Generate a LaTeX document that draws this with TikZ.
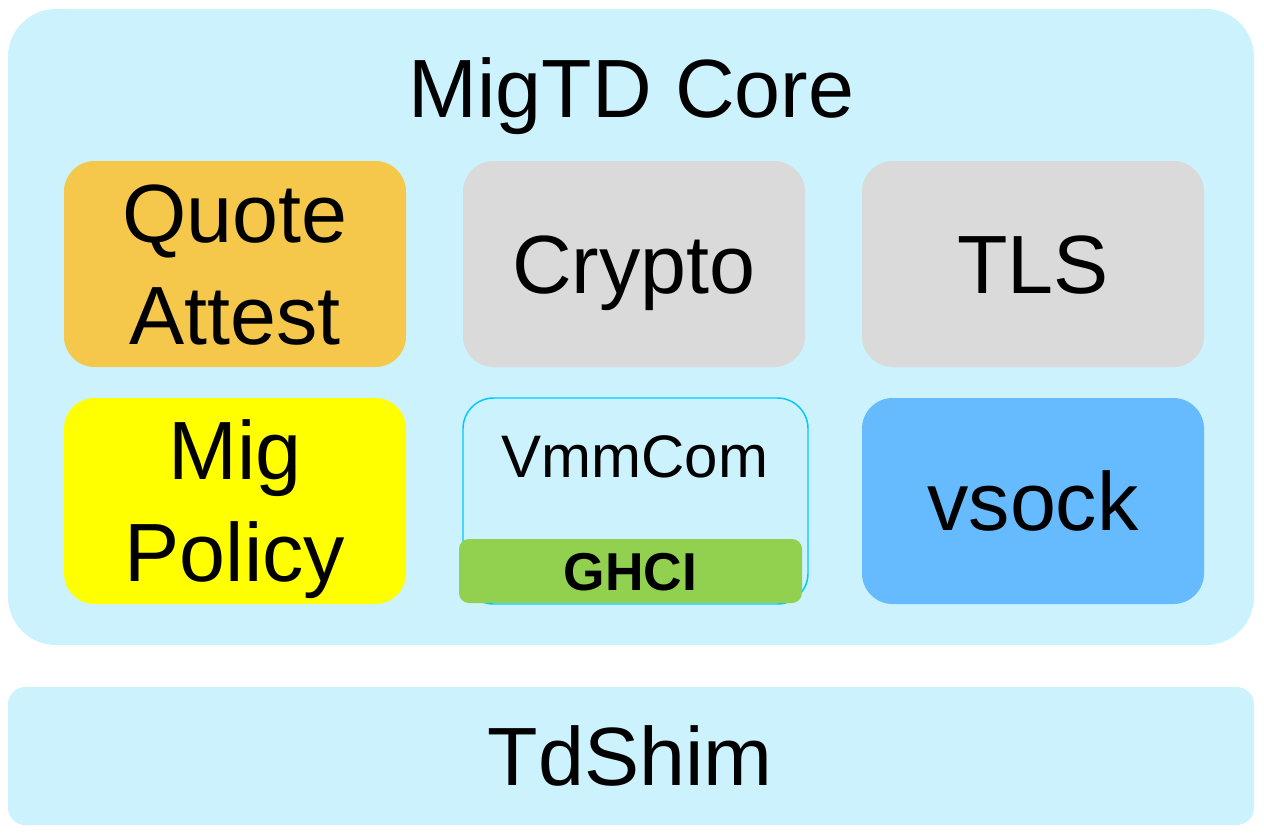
\documentclass[tikz,border=0pt]{standalone}
\usepackage{fontspec}
\setmainfont{Liberation Sans}
\usetikzlibrary{positioning}

\tikzset{every picture/.style={line width=0.75pt},
	modbox/.style={rounded corners=23pt, minimum width=256.5pt, minimum height=154.5pt, inner sep=0pt, font=\fontsize{62}{77}\selectfont, align=center, text height=44.4pt, text depth=0pt},
	twoline/.style={text height=121.4pt},
	captext/.style={inner sep=0pt, font=\fontsize{62}{77}\selectfont, text height=44.4pt, text depth=0pt}
}

\begin{document}
\begin{tikzpicture}[x=0.75pt,y=0.75pt,yscale=-1,xscale=1]
	\useasboundingbox (0,0) rectangle (1264,832);

	%Shape: Rounded Rect [MigTD Core]
	\draw  [draw opacity=0][fill={rgb, 255:red, 204; green, 242; blue, 253 }  ,fill opacity=1 ][rounded corners=36pt] (8,9) rectangle (1254,645) ;
	%Shape: Rounded Rect [TdShim]
	\draw  [draw opacity=0][fill={rgb, 255:red, 204; green, 242; blue, 253 }  ,fill opacity=1 ][rounded corners=13pt] (8,687) rectangle (1254,825) ;

	% Text Node
	\node (core) [captext] at (631.5,88) {MigTD Core};
	% Text Node
	\node (tdshim) [captext] at (630,756) {TdShim};

	%Shape: Modules, first row
	\node (quote) [modbox, twoline, fill={rgb, 255:red, 245; green, 200; blue, 76 }] at (235,264) {Quote\\Attest};
	\node (crypto) [modbox, fill={rgb, 255:red, 218; green, 218; blue, 218 }] at (634,264) {Crypto};
	\node (tls) [modbox, fill={rgb, 255:red, 218; green, 218; blue, 218 }] at (1033,264) {TLS};

	%Shape: Modules, second row
	\node (policy) [modbox, twoline, fill={rgb, 255:red, 255; green, 255; blue, 0 }] at (235,501) {Mig\\Policy};
	\node (vmmcom) [modbox, draw={rgb, 255:red, 0; green, 200; blue, 255 }, line width=1.1pt, minimum width=258.75pt] at (635.5,501) {};
	\node (vsock) [modbox, fill={rgb, 255:red, 102; green, 187; blue, 255 }] at (1033,501) {vsock};
	\node (ghci) [modbox, fill={rgb, 255:red, 146; green, 208; blue, 80 }, rounded corners=7.5pt, minimum width=257.25pt, minimum height=48pt, font=\fontsize{40}{48}\selectfont\bfseries, text height=28.6pt] at (630.5,571) {GHCI};

	% Text Node
	\node (vmmtext) [captext, font=\fontsize{45}{54}\selectfont, text height=32.2pt] at (635,456.5) {VmmCom};

\end{tikzpicture}
\end{document}
